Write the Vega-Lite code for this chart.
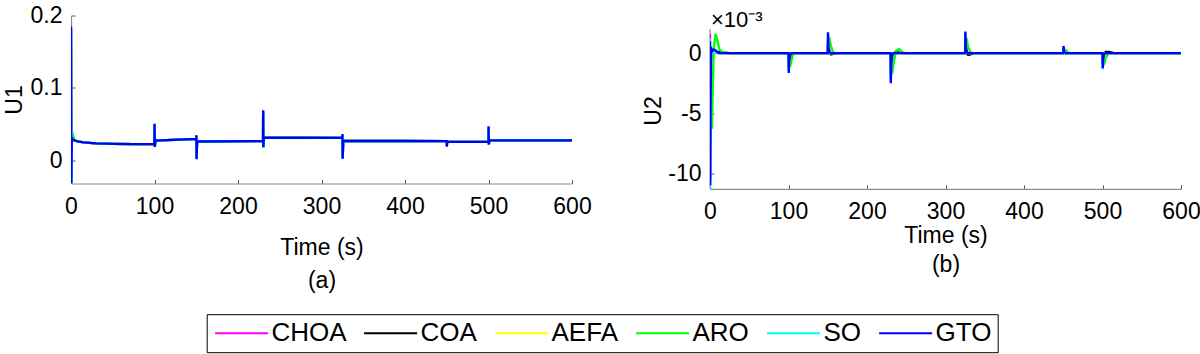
{
  "$schema": "https://vega.github.io/schema/vega-lite/v6.json",
  "autosize": {"type": "pad"},
  "padding": {"left": 3, "top": 4.5, "right": 0, "bottom": 0},
  "background": "white",
  "bounds": "flush",
  "spacing": 138,
  "datasets": {
    "u1": [
      {"t": 0, "CHOA": 0.185, "COA": 0.18, "AEFA": 0.17, "ARO": 0.16, "SO": 0.185, "GTO": 0.185},
      {"t": 0.4, "CHOA": -0.032, "COA": -0.032, "AEFA": -0.032, "ARO": -0.032, "SO": -0.032, "GTO": -0.032},
      {"t": 1, "CHOA": 0.03, "COA": 0.03, "AEFA": 0.04, "ARO": 0.034, "SO": 0.031, "GTO": 0.031},
      {"t": 2, "CHOA": 0.029, "COA": 0.029, "AEFA": 0.033, "ARO": 0.036, "SO": 0.029, "GTO": 0.029},
      {"t": 4, "CHOA": 0.0275, "COA": 0.0275, "AEFA": 0.028, "ARO": 0.029, "SO": 0.0275, "GTO": 0.0275},
      {"t": 8, "CHOA": 0.026, "COA": 0.026, "AEFA": 0.026, "ARO": 0.026, "SO": 0.026, "GTO": 0.026},
      {"t": 15, "CHOA": 0.0248, "COA": 0.0248, "AEFA": 0.0248, "ARO": 0.0248, "SO": 0.0248, "GTO": 0.0248},
      {"t": 30, "CHOA": 0.0235, "COA": 0.0235, "AEFA": 0.0235, "ARO": 0.0235, "SO": 0.0235, "GTO": 0.0235},
      {"t": 50, "CHOA": 0.0228, "COA": 0.0228, "AEFA": 0.0228, "ARO": 0.0228, "SO": 0.0228, "GTO": 0.0228},
      {"t": 75, "CHOA": 0.0225, "COA": 0.0225, "AEFA": 0.0225, "ARO": 0.0225, "SO": 0.0225, "GTO": 0.0225},
      {"t": 99.8, "CHOA": 0.0225, "COA": 0.0225, "AEFA": 0.0225, "ARO": 0.0225, "SO": 0.0225, "GTO": 0.0225},
      {"t": 100.1, "CHOA": 0.05, "COA": 0.049, "AEFA": 0.05, "ARO": 0.048, "SO": 0.05, "GTO": 0.0506},
      {"t": 100.4, "CHOA": 0.019, "COA": 0.019, "AEFA": 0.019, "ARO": 0.02, "SO": 0.019, "GTO": 0.0184},
      {"t": 101, "CHOA": 0.0272, "COA": 0.0272, "AEFA": 0.0272, "ARO": 0.0272, "SO": 0.0272, "GTO": 0.0272},
      {"t": 150, "CHOA": 0.0295, "COA": 0.0295, "AEFA": 0.0295, "ARO": 0.0295, "SO": 0.0295, "GTO": 0.0295},
      {"t": 150.1, "CHOA": 0.034, "COA": 0.034, "AEFA": 0.034, "ARO": 0.033, "SO": 0.034, "GTO": 0.0345},
      {"t": 150.4, "CHOA": 0.002, "COA": 0.002, "AEFA": 0.002, "ARO": 0.004, "SO": 0.002, "GTO": 0.0015},
      {"t": 151, "CHOA": 0.026, "COA": 0.026, "AEFA": 0.026, "ARO": 0.026, "SO": 0.026, "GTO": 0.026},
      {"t": 230, "CHOA": 0.0265, "COA": 0.0265, "AEFA": 0.0265, "ARO": 0.0265, "SO": 0.0265, "GTO": 0.0265},
      {"t": 230.1, "CHOA": 0.068, "COA": 0.067, "AEFA": 0.068, "ARO": 0.066, "SO": 0.068, "GTO": 0.069},
      {"t": 230.4, "CHOA": 0.018, "COA": 0.018, "AEFA": 0.018, "ARO": 0.019, "SO": 0.018, "GTO": 0.018},
      {"t": 231, "CHOA": 0.0315, "COA": 0.0315, "AEFA": 0.0315, "ARO": 0.0315, "SO": 0.0315, "GTO": 0.0315},
      {"t": 325, "CHOA": 0.031, "COA": 0.031, "AEFA": 0.031, "ARO": 0.031, "SO": 0.031, "GTO": 0.031},
      {"t": 325.1, "CHOA": 0.036, "COA": 0.036, "AEFA": 0.036, "ARO": 0.035, "SO": 0.036, "GTO": 0.036},
      {"t": 325.4, "CHOA": 0.003, "COA": 0.003, "AEFA": 0.003, "ARO": 0.005, "SO": 0.003, "GTO": 0.0023},
      {"t": 326, "CHOA": 0.027, "COA": 0.027, "AEFA": 0.027, "ARO": 0.027, "SO": 0.027, "GTO": 0.027},
      {"t": 450, "CHOA": 0.0265, "COA": 0.0265, "AEFA": 0.0265, "ARO": 0.0265, "SO": 0.0265, "GTO": 0.0265},
      {"t": 450.1, "CHOA": 0.0195, "COA": 0.0195, "AEFA": 0.0195, "ARO": 0.02, "SO": 0.0195, "GTO": 0.019},
      {"t": 450.4, "CHOA": 0.024, "COA": 0.024, "AEFA": 0.024, "ARO": 0.024, "SO": 0.024, "GTO": 0.024},
      {"t": 451, "CHOA": 0.0258, "COA": 0.0258, "AEFA": 0.0258, "ARO": 0.0258, "SO": 0.0258, "GTO": 0.0258},
      {"t": 500, "CHOA": 0.0255, "COA": 0.0255, "AEFA": 0.0255, "ARO": 0.0255, "SO": 0.0255, "GTO": 0.0255},
      {"t": 500.1, "CHOA": 0.046, "COA": 0.046, "AEFA": 0.046, "ARO": 0.045, "SO": 0.046, "GTO": 0.047},
      {"t": 500.4, "CHOA": 0.022, "COA": 0.022, "AEFA": 0.022, "ARO": 0.023, "SO": 0.022, "GTO": 0.022},
      {"t": 501, "CHOA": 0.0275, "COA": 0.0275, "AEFA": 0.0275, "ARO": 0.0275, "SO": 0.0275, "GTO": 0.0275},
      {"t": 600, "CHOA": 0.0275, "COA": 0.0275, "AEFA": 0.0275, "ARO": 0.0275, "SO": 0.0275, "GTO": 0.0275}
    ],
    "u2": [
      {"t": 0, "CHOA": 1.6, "COA": 0.5, "AEFA": 0.8, "ARO": 0.3, "SO": 1.2, "GTO": 1.0},
      {"t": 0.3, "CHOA": -10.5, "COA": -6, "AEFA": -8, "ARO": -2, "SO": -11.3, "GTO": -11},
      {"t": 0.8, "CHOA": -3, "COA": -1, "AEFA": -4, "ARO": -5, "SO": -6, "GTO": -4},
      {"t": 1.5, "CHOA": 0.5, "COA": 0.3, "AEFA": -1, "ARO": -6, "SO": 0, "GTO": 0.4},
      {"t": 2.5, "CHOA": 0.2, "COA": 0.2, "AEFA": 0.5, "ARO": -6.3, "SO": 0.3, "GTO": 0.3},
      {"t": 3.5, "CHOA": 0.1, "COA": 0.1, "AEFA": 0.3, "ARO": -3, "SO": 0.1, "GTO": 0.2},
      {"t": 5, "CHOA": 0.05, "COA": 0.05, "AEFA": 0.1, "ARO": 0.5, "SO": 0.05, "GTO": 0.3},
      {"t": 7, "CHOA": 0, "COA": 0.05, "AEFA": 0.05, "ARO": 1.6, "SO": 0, "GTO": 0.25},
      {"t": 9, "CHOA": 0, "COA": 0.1, "AEFA": 0, "ARO": 1.2, "SO": 0, "GTO": 0.1},
      {"t": 12, "CHOA": 0, "COA": 0.1, "AEFA": 0, "ARO": 0.3, "SO": 0, "GTO": 0},
      {"t": 16, "CHOA": 0, "COA": 0.05, "AEFA": 0, "ARO": 0.1, "SO": 0, "GTO": 0},
      {"t": 25, "CHOA": 0, "COA": 0, "AEFA": 0, "ARO": 0, "SO": 0, "GTO": 0},
      {"t": 100, "CHOA": 0, "COA": 0, "AEFA": 0, "ARO": 0, "SO": 0, "GTO": 0},
      {"t": 100.3, "CHOA": -1.2, "COA": -0.8, "AEFA": -1.0, "ARO": -0.3, "SO": -1.5, "GTO": -1.65},
      {"t": 101, "CHOA": -0.3, "COA": -0.3, "AEFA": -0.6, "ARO": -0.9, "SO": -0.5, "GTO": -0.6},
      {"t": 102.5, "CHOA": -0.05, "COA": -0.05, "AEFA": -0.2, "ARO": -1.0, "SO": -0.05, "GTO": -0.1},
      {"t": 104, "CHOA": 0, "COA": 0, "AEFA": 0, "ARO": -0.5, "SO": 0, "GTO": 0},
      {"t": 106, "CHOA": 0, "COA": 0, "AEFA": 0, "ARO": -0.1, "SO": 0, "GTO": 0},
      {"t": 110, "CHOA": 0, "COA": 0, "AEFA": 0, "ARO": 0, "SO": 0, "GTO": 0},
      {"t": 150, "CHOA": 0, "COA": 0, "AEFA": 0, "ARO": 0, "SO": 0, "GTO": 0},
      {"t": 150.3, "CHOA": 1.2, "COA": 0.8, "AEFA": 1.0, "ARO": 0.3, "SO": 1.6, "GTO": 1.75},
      {"t": 151, "CHOA": 0.3, "COA": 0.3, "AEFA": 0.5, "ARO": 0.8, "SO": 0.4, "GTO": 0.5},
      {"t": 152.5, "CHOA": 0.05, "COA": 0, "AEFA": 0.2, "ARO": 1.1, "SO": 0.05, "GTO": 0.1},
      {"t": 154, "CHOA": 0, "COA": -0.1, "AEFA": 0, "ARO": 0.6, "SO": 0, "GTO": 0},
      {"t": 157, "CHOA": 0, "COA": -0.05, "AEFA": 0, "ARO": 0.05, "SO": 0, "GTO": 0},
      {"t": 162, "CHOA": 0, "COA": 0, "AEFA": 0, "ARO": 0, "SO": 0, "GTO": 0},
      {"t": 230, "CHOA": 0, "COA": 0, "AEFA": 0, "ARO": 0, "SO": 0, "GTO": 0},
      {"t": 230.3, "CHOA": -1.8, "COA": -1.2, "AEFA": -1.5, "ARO": -0.4, "SO": -2.3, "GTO": -2.5},
      {"t": 231, "CHOA": -0.4, "COA": -0.4, "AEFA": -0.8, "ARO": -1.3, "SO": -0.7, "GTO": -0.8},
      {"t": 232.5, "CHOA": -0.05, "COA": -0.05, "AEFA": -0.3, "ARO": -1.5, "SO": -0.05, "GTO": -0.1},
      {"t": 234, "CHOA": 0, "COA": 0, "AEFA": -0.05, "ARO": -0.8, "SO": 0, "GTO": 0},
      {"t": 237, "CHOA": 0, "COA": 0.1, "AEFA": 0, "ARO": 0.2, "SO": 0, "GTO": 0},
      {"t": 241, "CHOA": 0, "COA": 0.05, "AEFA": 0, "ARO": 0.35, "SO": 0, "GTO": 0},
      {"t": 246, "CHOA": 0, "COA": 0, "AEFA": 0, "ARO": 0.05, "SO": 0, "GTO": 0},
      {"t": 252, "CHOA": 0, "COA": 0, "AEFA": 0, "ARO": 0, "SO": 0, "GTO": 0},
      {"t": 325, "CHOA": 0, "COA": 0, "AEFA": 0, "ARO": 0, "SO": 0, "GTO": 0},
      {"t": 325.3, "CHOA": 1.3, "COA": 0.9, "AEFA": 1.1, "ARO": 0.3, "SO": 1.7, "GTO": 1.8},
      {"t": 326, "CHOA": 0.3, "COA": 0.3, "AEFA": 0.5, "ARO": 0.8, "SO": 0.4, "GTO": 0.5},
      {"t": 327.5, "CHOA": 0.05, "COA": -0.05, "AEFA": 0.2, "ARO": 1.0, "SO": 0.05, "GTO": 0.1},
      {"t": 329, "CHOA": 0, "COA": -0.15, "AEFA": 0, "ARO": 0.5, "SO": 0, "GTO": 0},
      {"t": 332, "CHOA": 0, "COA": -0.1, "AEFA": 0, "ARO": 0.05, "SO": 0, "GTO": 0},
      {"t": 337, "CHOA": 0, "COA": 0, "AEFA": 0, "ARO": 0, "SO": 0, "GTO": 0},
      {"t": 450, "CHOA": 0, "COA": 0, "AEFA": 0, "ARO": 0, "SO": 0, "GTO": 0},
      {"t": 450.3, "CHOA": 0.4, "COA": 0.3, "AEFA": 0.35, "ARO": 0.1, "SO": 0.55, "GTO": 0.6},
      {"t": 451, "CHOA": 0.1, "COA": 0.1, "AEFA": 0.15, "ARO": 0.3, "SO": 0.1, "GTO": 0.15},
      {"t": 453, "CHOA": 0, "COA": 0, "AEFA": 0.05, "ARO": 0.3, "SO": 0, "GTO": 0},
      {"t": 456, "CHOA": 0, "COA": 0, "AEFA": 0, "ARO": 0.05, "SO": 0, "GTO": 0},
      {"t": 460, "CHOA": 0, "COA": 0, "AEFA": 0, "ARO": 0, "SO": 0, "GTO": 0},
      {"t": 500, "CHOA": 0, "COA": 0, "AEFA": 0, "ARO": 0, "SO": 0, "GTO": 0},
      {"t": 500.3, "CHOA": -0.9, "COA": -0.6, "AEFA": -0.7, "ARO": -0.2, "SO": -1.35, "GTO": -1.25},
      {"t": 501, "CHOA": -0.2, "COA": -0.2, "AEFA": -0.4, "ARO": -0.6, "SO": -0.3, "GTO": -0.4},
      {"t": 502.5, "CHOA": 0, "COA": 0, "AEFA": -0.1, "ARO": -0.8, "SO": 0, "GTO": -0.05},
      {"t": 504, "CHOA": 0, "COA": 0.1, "AEFA": 0, "ARO": -0.4, "SO": 0, "GTO": 0},
      {"t": 508, "CHOA": 0, "COA": 0.1, "AEFA": 0, "ARO": 0, "SO": 0, "GTO": 0},
      {"t": 515, "CHOA": 0, "COA": 0, "AEFA": 0, "ARO": 0, "SO": 0, "GTO": 0},
      {"t": 600, "CHOA": 0, "COA": 0, "AEFA": 0, "ARO": 0, "SO": 0, "GTO": 0}
    ]
  },
  "hconcat": [
    {
      "width": 501,
      "height": 168,
      "data": {"name": "u1"},
      "transform": [{"fold": ["CHOA", "COA", "AEFA", "ARO", "SO", "GTO"], "as": ["algo", "value"]}],
      "mark": {"type": "line", "strokeWidth": 2.3, "clip": true},
      "encoding": {
        "x": {"field": "t", "type": "quantitative",
          "scale": {"domain": [0, 600], "nice": false, "zero": false},
          "axis": {"values": [0, 100, 200, 300, 400, 500, 600], "title": ["Time (s)", "(a)"], "titlePadding": 18, "titleLineHeight": 33}},
        "y": {"field": "value", "type": "quantitative",
          "scale": {"domain": [-0.032, 0.2], "nice": false, "zero": false},
          "axis": {"values": [0, 0.1, 0.2], "title": "U1", "labelExpr": "toString(datum.value)", "titlePadding": 4}},
        "color": {"field": "algo", "type": "nominal",
          "scale": {"domain": ["CHOA", "COA", "AEFA", "ARO", "SO", "GTO"], "range": ["#ff00ff", "#000000", "#ffff00", "#00ff00", "#00ffff", "#0000ff"]},
          "legend": {"orient": "none", "legendX": 135.7, "legendY": 298.7, "direction": "horizontal", "title": null}}
      }
    },
    {
      "width": 471,
      "height": 173.3,
      "title": {"text": "×10⁻³", "anchor": "start", "frame": "group", "offset": -11, "dy": 22, "fontSize": 22, "fontWeight": "normal", "baseline": "alphabetic", "dx": 1, "color": "#000"},
      "layer": [
        {
          "data": {"values": [{}]},
          "mark": {"type": "rule", "color": "#8c8c8c", "strokeWidth": 1.2},
          "encoding": {
            "x": {"datum": 0, "type": "quantitative"},
            "y": {"datum": -11.3, "type": "quantitative"},
            "y2": {"datum": 2}
          }
        },
        {
          "data": {"name": "u2"},
          "transform": [{"fold": ["CHOA", "COA", "AEFA", "ARO", "SO", "GTO"], "as": ["algo", "value"]}],
          "mark": {"type": "line", "strokeWidth": 2.3, "clip": true},
          "encoding": {
            "x": {"field": "t", "type": "quantitative",
              "scale": {"domain": [0, 600], "nice": false, "zero": false},
              "axis": {"values": [0, 100, 200, 300, 400, 500, 600], "title": ["Time (s)", "(b)"], "titlePadding": 1, "titleLineHeight": 29}},
            "y": {"field": "value", "type": "quantitative",
              "scale": {"domain": [-11.3, 3.14], "nice": false, "zero": false},
              "axis": {"values": [-10, -5, 0], "title": "U2", "domain": false, "titleY": 95, "titlePadding": 2,
                "labelExpr": "datum.value < 0 ? '-' + toString(-datum.value) : toString(datum.value)"}},
            "color": {"field": "algo", "type": "nominal",
              "scale": {"domain": ["CHOA", "COA", "AEFA", "ARO", "SO", "GTO"], "range": ["#ff00ff", "#000000", "#ffff00", "#00ff00", "#00ffff", "#0000ff"]},
              "legend": {"orient": "none", "legendX": 135.7, "legendY": 298.7, "direction": "horizontal", "title": null}}
          }
        }
      ]
    }
  ],
  "config": {
    "font": "Liberation Sans",
    "view": {"stroke": null},
    "axis": {
      "grid": false,
      "domainColor": "#8c8c8c",
      "domainWidth": 1.2,
      "tickColor": "#555555",
      "tickSize": -4,
      "labelFontSize": 23,
      "titleFontSize": 23,
      "titleFontWeight": "normal",
      "labelColor": "#000000",
      "titleColor": "#000000",
      "labelFont": "Liberation Sans",
      "titleFont": "Liberation Sans",
      "labelFlush": false,
      "labelOverlap": false
    },
    "axisX": {"labelPadding": 16},
    "axisY": {"labelPadding": 13},
    "legend": {
      "labelFontSize": 26,
      "labelFont": "Liberation Sans",
      "labelColor": "#000000",
      "symbolType": "M-1,0H4",
      "symbolSize": 450,
      "symbolStrokeWidth": 2,
      "labelOffset": 32.8,
      "columnPadding": 13,
      "padding": 6,
      "strokeColor": "#000000",
      "fillColor": "#ffffff"
    }
  }
}
